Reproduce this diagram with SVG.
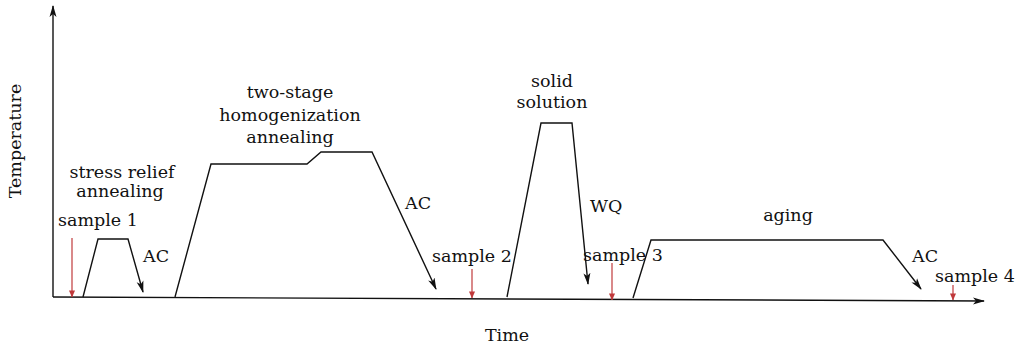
<svg xmlns="http://www.w3.org/2000/svg" width="1021" height="347" viewBox="0 0 1021 347">
<style>
text{font-family:"DejaVu Serif","Liberation Serif",serif;font-size:17.5px;fill:#111}
.c{text-anchor:middle}
.ln{fill:none;stroke:#111;stroke-width:1.4;stroke-linejoin:miter}
.red{fill:none;stroke:#c0393b;stroke-width:1.2}
</style>
<defs>
<marker id="ah" viewBox="0 0 12 8" refX="11" refY="4" markerWidth="12" markerHeight="8" markerUnits="userSpaceOnUse" orient="auto">
<path d="M0,0.5 L12,4 L0,7.5 L3,4 Z" fill="#111"/>
</marker>
<marker id="ahr" viewBox="0 0 8 8" refX="7.5" refY="4" markerWidth="7" markerHeight="7" markerUnits="userSpaceOnUse" orient="auto">
<path d="M0,0.5 L8,4 L0,7.5 Z" fill="#c0393b"/>
</marker>
</defs>
<rect width="1021" height="347" fill="#fff"/>
<g id="axes">
<line class="ln" x1="53" y1="297" x2="53" y2="6" marker-end="url(#ah)"/>
<line class="ln" x1="53" y1="297" x2="984" y2="301" marker-end="url(#ah)"/>
<text class="c" transform="translate(21,141) rotate(-90)">Temperature</text>
<text class="c" x="507" y="341">Time</text>
</g>
<g id="connectors">
<polyline id="stress-relief" class="ln" points="83,297 98,239 128,239 143,292" marker-end="url(#ah)"/>
<polyline id="homogenization" class="ln" points="175,297 211,164 307,164 321,152 372,152 436,289" marker-end="url(#ah)"/>
<polyline id="solid-solution" class="ln" points="507,297 541,123 572,123 588,284" marker-end="url(#ah)"/>
<polyline id="aging-curve" class="ln" points="633,298 651,240 883,240 921,289" marker-end="url(#ah)"/>
<line class="red" x1="72" y1="238" x2="72" y2="297" marker-end="url(#ahr)"/>
<line class="red" x1="472" y1="269" x2="472" y2="298" marker-end="url(#ahr)"/>
<line class="red" x1="612" y1="263" x2="612" y2="300" marker-end="url(#ahr)"/>
<line class="red" x1="953" y1="285" x2="953" y2="300" marker-end="url(#ahr)"/>
</g>
<g id="node-stress-relief">
<text class="c" x="122" y="178">stress relief</text>
<text class="c" x="120" y="197">annealing</text>
<text x="143" y="262">AC</text>
</g>
<g id="node-homogenization">
<text class="c" x="290" y="98">two-stage</text>
<text class="c" x="290" y="121">homogenization</text>
<text class="c" x="290" y="143">annealing</text>
<text x="405" y="209">AC</text>
</g>
<g id="node-solid-solution">
<text class="c" x="552" y="87">solid</text>
<text class="c" x="552" y="108">solution</text>
<text x="590" y="212">WQ</text>
</g>
<g id="node-aging">
<text class="c" x="788" y="221">aging</text>
<text x="912" y="262">AC</text>
</g>
<g id="samples">
<text x="58" y="226">sample 1</text>
<text x="432" y="262">sample 2</text>
<text x="583" y="261">sample 3</text>
<text x="935" y="282">sample 4</text>
</g>
</svg>
